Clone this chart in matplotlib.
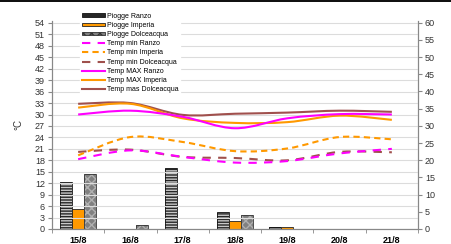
import numpy as np
import matplotlib
matplotlib.use("Agg")
import matplotlib.pyplot as plt
from matplotlib.path import Path
from matplotlib.patches import PathPatch, Patch, Rectangle
from matplotlib.lines import Line2D

plt.rcParams['font.family'] = ['Liberation Sans', 'DejaVu Sans']

giorni = ["15/8", "16/8", "17/8", "18/8", "19/8", "20/8", "21/8"]

# piogge (mm, asse destro)
piogge_ranzo = [13.8, 0, 17.7, 4.9, 0.6, 0, 0]
piogge_imperia = [5.9, 0, 0, 2.4, 0.6, 0, 0]
piogge_dolceacqua = [16.1, 1.1, 0, 4.2, 0, 0, 0]

# temperature (°C, asse sinistro)
tmin_ranzo = [18.3, 20.6, 18.9, 17.4, 17.8, 19.8, 21.0]
tmin_imperia = [19.3, 24.1, 22.8, 20.4, 21.1, 24.1, 23.5]
tmin_dolceacqua = [20.2, 20.8, 18.9, 18.6, 18.0, 20.2, 20.1]
tmax_ranzo = [30.0, 31.0, 29.4, 26.4, 29.0, 30.1, 30.0]
tmax_imperia = [31.8, 32.8, 29.0, 27.8, 28.0, 29.7, 28.6]
tmax_dolceacqua = [32.8, 33.0, 29.9, 30.2, 30.5, 31.0, 30.7]


def smooth_path(xs, ys):
    # curva bezier tipo "linea smussata" di Excel
    p = np.column_stack([xs, ys]).astype(float)
    n = len(p)
    verts = [p[0]]
    codes = [Path.MOVETO]
    for i in range(n - 1):
        p0 = p[i - 1] if i > 0 else p[i]
        p3 = p[i + 2] if i + 2 < n else p[i + 1]
        c1 = p[i] + (p[i + 1] - p0) / 6
        c2 = p[i + 1] - (p3 - p[i]) / 6
        verts += [c1, c2, p[i + 1]]
        codes += [Path.CURVE4] * 3
    return Path(verts, codes)


fig = plt.figure(figsize=(4.52, 2.44), dpi=100)
ax = fig.add_axes([52 / 452, 15 / 244, 366 / 452, 208 / 244])
ax2 = ax.twinx()
ax.set_zorder(ax2.get_zorder() + 1)
ax.patch.set_visible(False)

x = np.arange(len(giorni))
w = 0.23

# barre
ax2.bar(x - w, piogge_ranzo, w, color="#262626", edgecolor="#c8c8c8", hatch="------", linewidth=0)
ax2.bar(x - w, piogge_ranzo, w, fill=False, edgecolor="#111111", linewidth=0.6)
ax2.bar(x, piogge_imperia, w, color="#FF9900", edgecolor="#222222", linewidth=0.6)
ax2.bar(x + w, piogge_dolceacqua, w, color="#808080", edgecolor="#b0b0b0", hatch="xxxx", linewidth=0)
ax2.bar(x + w, piogge_dolceacqua, w, fill=False, edgecolor="#333333", linewidth=0.6)

serie = [
    (tmin_ranzo, "#FF00FF", (0, (4, 3.5))),
    (tmin_imperia, "#FF9900", (0, (3, 2))),
    (tmin_dolceacqua, "#A0504D", (0, (4, 3.5))),
    (tmax_ranzo, "#FF00FF", "-"),
    (tmax_imperia, "#FF9900", "-"),
    (tmax_dolceacqua, "#A0504D", "-"),
]
for ys, col, ls in serie[::-1]:
    ax.add_patch(PathPatch(smooth_path(x, ys), fill=False, edgecolor=col,
                           linestyle=ls, linewidth=1.5, capstyle="butt", zorder=3))

ax.set_xlim(-0.5, 6.5)
ax.set_ylim(0, 54.5)
ax2.set_ylim(0, 60.5)
ax.set_yticks(np.arange(0, 55, 3))
ax2.set_yticks(np.arange(0, 61, 5))
ax.grid(axis="y", color="#dcdcdc", linewidth=0.8)
ax.set_axisbelow(True)

ax.set_xticks(x)
ax.set_xticklabels(giorni, fontweight="bold", fontsize=6.5)
ax.set_xticks(np.arange(-0.5, 7, 1), minor=True)
ax.tick_params(axis="x", which="major", length=0, pad=5)
ax.tick_params(axis="x", which="minor", length=3, color="#888888")
ax.tick_params(axis="y", labelsize=6.5, length=3, color="#888888", pad=2, labelcolor="#333333")
ax2.tick_params(axis="y", labelsize=6.5, length=3, color="#888888", pad=2, labelcolor="#333333")

for a in (ax, ax2):
    a.spines["top"].set_visible(False)
    for s in ("left", "right", "bottom"):
        a.spines[s].set_color("#888888")
        a.spines[s].set_linewidth(0.8)

ax.set_ylabel("°C", fontsize=7, labelpad=8, color="#333333")
ax2.set_ylabel("mm", fontsize=7, labelpad=16, color="#333333")

handles = [
    Patch(facecolor="#262626", edgecolor="#111111", linewidth=0.6),
    Patch(facecolor="#FF9900", edgecolor="#222222", linewidth=0.6),
    Patch(facecolor="#808080", edgecolor="#333333", hatch="xxxx", linewidth=0.6),
]
for ys, col, ls in serie:
    handles.append(Line2D([], [], color=col, linestyle=ls, linewidth=1.5))
labels = ["Piogge Ranzo", "Piogge Imperia", "Piogge Dolceacqua",
          "Temp min Ranzo", "Temp min Imperia", "Temp min Dolceacqua",
          "Temp MAX Ranzo", "Temp MAX Imperia", "Temp mas Dolceacqua"]
leg = ax.legend(handles, labels, loc="upper left", bbox_to_anchor=(77 / 452, 1 - 8 / 244),
                bbox_transform=fig.transFigure, fontsize=5.0, frameon=True,
                framealpha=1, edgecolor="white", facecolor="white",
                handlelength=3.4, handleheight=0.35, labelspacing=0.32,
                borderpad=0.15, handletextpad=0.3, fancybox=False)
leg.set_zorder(2)

fig.add_artist(Rectangle((0, 1 - 2 / 244), 1, 2 / 244, transform=fig.transFigure,
                         color="#111111", linewidth=0))

fig.savefig("out.png", dpi=100)
